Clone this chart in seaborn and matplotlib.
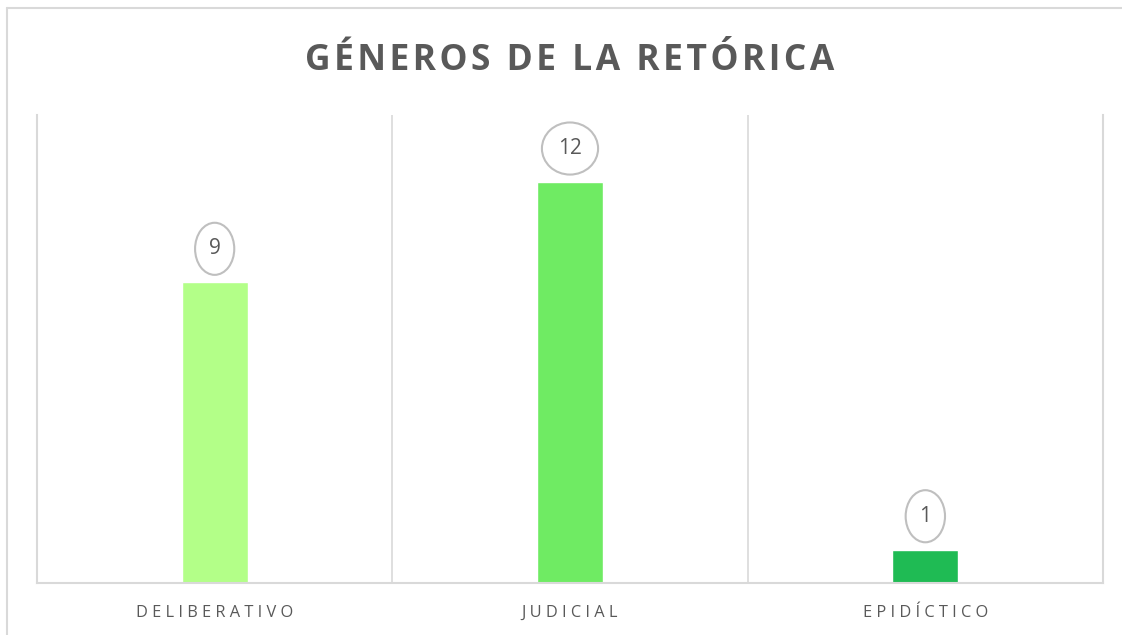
import seaborn as sns
import matplotlib.pyplot as plt
import pandas as pd

categorias = ['DELIBERATIVO', 'JUDICIAL', 'EPIDÍCTICO']
valores = [9, 12, 1]
colores = ['#b3ff88', '#6feb63', '#1fbb54']
titulo = 'GÉNEROS DE LA RETÓRICA'

GRIS = '#595959'
LINEA = '#d9d9d9'

sns.set_style('white')
plt.rcParams['font.family'] = ['Open Sans', 'DejaVu Sans']

df = pd.DataFrame({'genero': categorias, 'valor': valores})

fig = plt.figure(figsize=(11.22, 6.35), dpi=100)
ax = fig.add_axes([37 / 1122, 52 / 635, 1066 / 1122, 468 / 635])

sns.barplot(data=df, x='genero', y='valor', hue='genero', palette=colores,
            width=0.186, legend=False, ax=ax, saturation=1)

ax.set_xlim(-0.5, 2.5)
ax.set_ylim(0, 14)
ax.set_yticks([])
ax.set_xlabel(''); ax.set_ylabel('')

### separadores verticales
ax.set_xticks([0.5, 1.5], minor=True)
ax.grid(True, which='minor', axis='x', color=LINEA, linewidth=1.2)
ax.tick_params(axis='x', which='both', length=0, pad=16)
for lado in ['left', 'right', 'bottom']:
    ax.spines[lado].set_color(LINEA)
    ax.spines[lado].set_linewidth(1.5)
ax.spines['top'].set_visible(False)

ax.set_xticks(range(len(categorias)))
ax.set_xticklabels([' '.join(c) for c in categorias], fontsize=11.8, color=GRIS)

### etiquetas de valor
for i, v in enumerate(valores):
    ax.annotate(str(v), (i, v), xytext=(0, 24), textcoords='offset points',
                ha='center', va='center', fontsize=15, color=GRIS,
                bbox=dict(boxstyle='ellipse,pad=0.38', fc='white', ec='#bfbfbf', lw=1.5))

# espaciado entre letras del titulo
titulo_esp = '\u200a \u200a'.join('\u200a'.join(p) for p in titulo.split(' '))
fig.text(570 / 1122, 1 - 70 / 635, titulo_esp, ha='center', va='baseline',
         fontsize=25.5, fontweight='bold', color=GRIS)

### marco exterior
fig.add_artist(plt.Line2D([7 / 1122, 7 / 1122], [0, 1 - 8 / 635], color=LINEA, lw=1.5))
fig.add_artist(plt.Line2D([7 / 1122, 1], [1 - 8 / 635, 1 - 8 / 635], color=LINEA, lw=1.5))

fig.savefig('out.png', dpi=100)
